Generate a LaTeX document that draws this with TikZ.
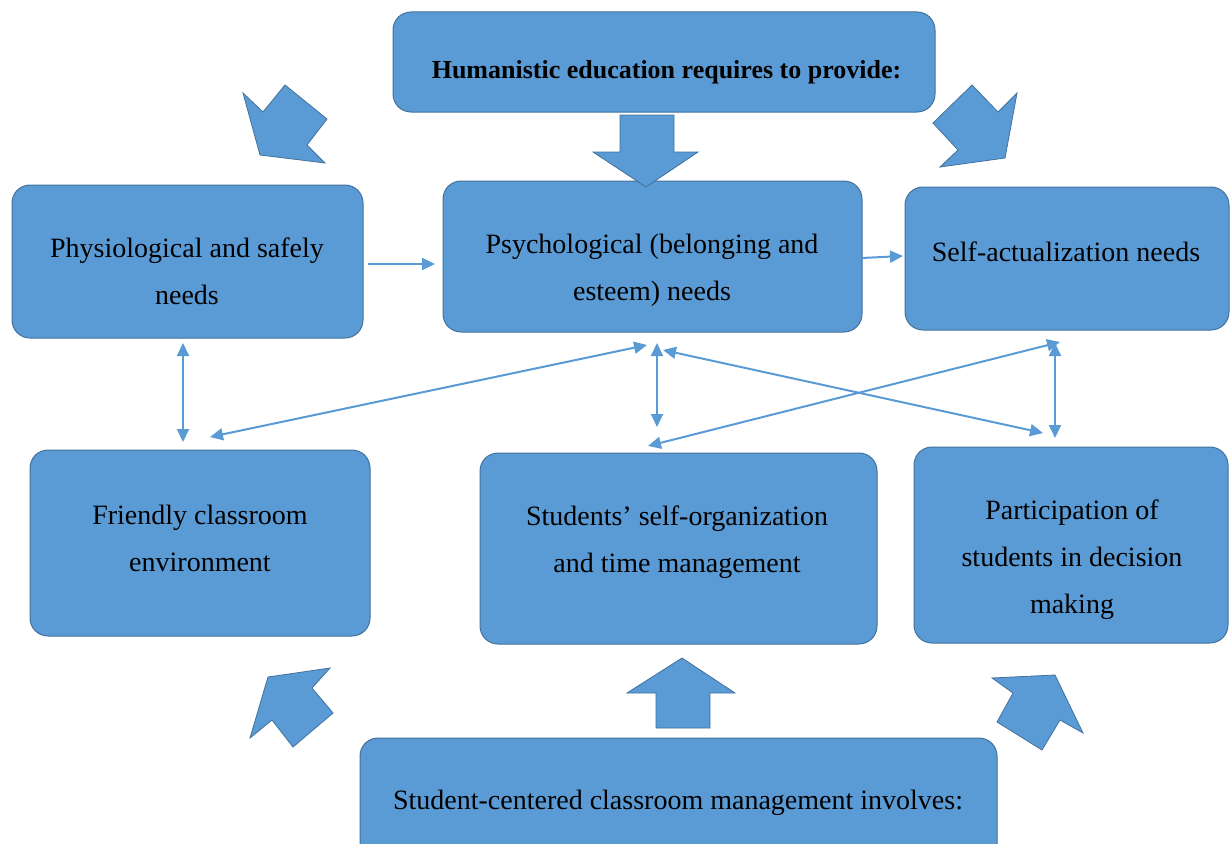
\documentclass[tikz,border=0pt]{standalone}
\usepackage{fontspec}
\setmainfont{Liberation Serif}
\usetikzlibrary{arrows.meta}
\definecolor{boxblue}{RGB}{91,155,213}
\definecolor{boxedge}{RGB}{65,113,156}
\tikzset{
  box/.style={draw=boxedge, line width=1pt, fill=boxblue, rounded corners=18pt,
    inner sep=0pt, outer sep=0pt},
  boxtext/.style={align=center, inner sep=0pt, font=\fontsize{28}{47}\selectfont},
  headtext/.style={align=center, inner sep=0pt, font=\fontsize{26}{40}\selectfont\bfseries},
  link/.style={draw=boxblue, line width=2pt,
    {Triangle[length=13pt,width=12pt]}-{Triangle[length=13pt,width=12pt]}},
  onelink/.style={draw=boxblue, line width=2pt, -{Triangle[length=13pt,width=12pt]}},
  bigarrow/.style={fill=boxblue, draw=boxedge, line width=0.8pt, line join=miter}
}
\begin{document}
\begin{tikzpicture}[x=1pt, y=-1pt]
\useasboundingbox (0,0) rectangle (1230,843);
\clip (0,0) rectangle (1230,843);

% boxes
\node[box, minimum width=542pt, minimum height=100pt] (top)    at (664,62) {};
\node[box, minimum width=351pt, minimum height=153pt] (phys)   at (187.5,261.5) {};
\node[box, minimum width=419pt, minimum height=151pt] (psych)  at (652.5,256.5) {};
\node[box, minimum width=324pt, minimum height=143pt] (self)   at (1067,258.5) {};
\node[box, minimum width=340pt, minimum height=186pt] (friend) at (200,543) {};
\node[box, minimum width=397pt, minimum height=191pt] (stud)   at (678.5,548.5) {};
\node[box, minimum width=314pt, minimum height=196pt] (part)   at (1071,545) {};
\node[box, minimum width=637pt, minimum height=150pt] (bottom) at (678.5,813) {};

% box texts
\node[headtext] (topT)    at (666.5,72)  {Humanistic education requires to provide:};
\node[boxtext]  (physT)   at (187,271)   {Physiological and safely\\needs};
\node[boxtext]  (psychT)  at (652,270)   {Psychological (belonging and\\esteem) needs};
\node[boxtext]  (selfT)   at (1066,252)  {Self-actualization needs};
\node[boxtext]  (friendT) at (200,538.5) {Friendly classroom\\environment};
\node[boxtext]  (studT)   at (677,542.5) {Students’ self-organization\\and time management};
\node[boxtext]  (partT)   at (1072,560)  {Participation of\\students in decision\\making};
\node[boxtext]  (bottomT) at (678,803)   {Student-centered classroom management involves:};

% thin connectors between the needs and the practices
\draw[onelink] ([xshift=5pt,yshift=-2.5pt]phys.east) -- ([xshift=-8pt,yshift=-7.5pt]psych.west);
\draw[onelink] ([yshift=-1.5pt]psych.east) -- ([xshift=-2pt,yshift=2.5pt]self.west);
\draw[link] ([xshift=-4.5pt,yshift=-5pt]phys.south) -- ([xshift=-17pt,yshift=8pt]friend.north);
\draw[link] ([xshift=10pt,yshift=13pt]friend.north) -- ([xshift=-5.5pt,yshift=-13pt]psych.south);
\draw[link] ([xshift=4.5pt,yshift=-11pt]psych.south) -- ([xshift=-21.5pt,yshift=26pt]stud.north);
\draw[link] ([xshift=10.5pt,yshift=-18pt]psych.south) -- ([xshift=-28pt,yshift=14pt]part.north);
\draw[link] ([xshift=-30.5pt,yshift=7pt]stud.north) -- ([xshift=-7pt,yshift=-12pt]self.south);
\draw[link] ([xshift=-12pt,yshift=-13pt]self.south) -- ([xshift=-16pt,yshift=9pt]part.north);

% block arrows from the heading box
\draw[bigarrow] (260,155) -- (243,93) -- (263,112) -- (285,85) -- (327,119) -- (307,145) -- (325,163) -- cycle;
\draw[bigarrow] (646,187) -- (698,152) -- (674,152) -- (674,115) -- (620,115) -- (620,152) -- (593,152) -- cycle;
\draw[bigarrow] (1005,158) -- (1017,93) -- (998,112) -- (972,85) -- (933,123) -- (958,150) -- (940,167) -- cycle;

% block arrows from the bottom box
\draw[bigarrow] (268,677) -- (330,668) -- (312,688) -- (333,713) -- (293,747) -- (272,720) -- (250,738) -- cycle;
\draw[bigarrow] (682,658) -- (735,693) -- (710,693) -- (710,728) -- (656,728) -- (656,693) -- (627,693) -- cycle;
\draw[bigarrow] (1055,675) -- (992,678) -- (1013,693) -- (997,722) -- (1042,750) -- (1060,720) -- (1083,733) -- cycle;
\end{tikzpicture}
\end{document}
